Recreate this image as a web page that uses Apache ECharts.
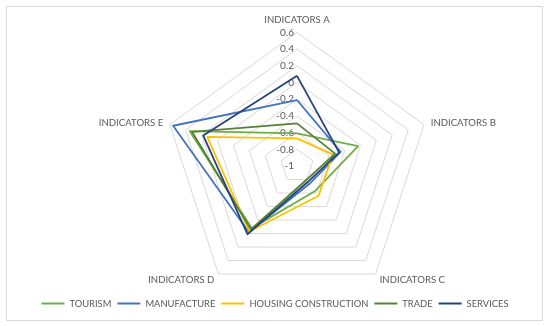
<!DOCTYPE html>
<html>
<head>
<meta charset="utf-8">
<script src="https://cdn.jsdelivr.net/npm/echarts@6/dist/echarts.min.js"></script>
<style>html,body{margin:0;padding:0;background:#fff;}#c{width:550px;height:326px;}</style>
</head>
<body>
<div id="c"></div>
<script>
const categories = ['INDICATORS A', 'INDICATORS B', 'INDICATORS C', 'INDICATORS D', 'INDICATORS E'];
const seriesNames = ['TOURISM', 'MANUFACTURE', 'HOUSING CONSTRUCTION', 'TRADE', 'SERVICES'];
const tourism = [-0.61, -0.23, -0.63, -0.08, 0.35];
const manufacture = [-0.21, -0.45, -0.74, -0.02, 0.56];
const housing = [-0.67, -0.55, -0.56, -0.03, 0.13];
const trade = [-0.49, -0.52, -0.80, -0.06, 0.32];
const services = [0.08, -0.47, -0.77, 0.01, 0.18];
const axisMin = -1, axisMax = 0.6, splitCount = 8;

const colors = ['#70AD47', '#4472C4', '#FFC000', '#548235', '#264478'];
const values = [tourism, manufacture, housing, trade, services];
const FONT = 'Lato';
const TXT = '#595959';

// ECharts radar runs counter-clockwise; reorder so categories go clockwise from the top
const order = [0, 4, 3, 2, 1];

const chart = echarts.init(document.getElementById('c'), null, {renderer: 'canvas'});
chart.setOption({
  animation: false,
  backgroundColor: '#fff',
  graphic: [{
    type: 'rect', shape: {x: 6.5, y: 6.5, width: 536, height: 314},
    style: {fill: 'none', stroke: '#D9D9D9', lineWidth: 1}, silent: true
  }],
  legend: {
    data: seriesNames,
    left: 'center', top: 294,
    icon: 'rect', itemWidth: 23, itemHeight: 2, itemGap: 6,
    textStyle: {color: TXT, fontFamily: FONT, fontSize: 9.4}
  },
  radar: {
    center: [297, 166],
    radius: 133.6,
    startAngle: 90,
    shape: 'polygon',
    splitNumber: splitCount,
    nameGap: 7,
    axisName: {color: TXT, fontFamily: FONT, fontSize: 9.6},
    axisLine: {show: false},
    axisTick: {show: false},
    axisLabel: {show: false},
    splitLine: {lineStyle: {color: '#D9D9D9', width: 1}},
    splitArea: {show: false},
    indicator: order.map((k, i) => {
      const o = {name: categories[k], min: axisMin, max: axisMax};
      if (i === 0) o.axisLabel = {show: true, color: TXT, fontFamily: FONT, fontSize: 10, margin: 3};
      return o;
    })
  },
  series: [{
    type: 'radar',
    symbol: 'none',
    data: seriesNames.map((n, i) => ({
      name: n,
      value: order.map(k => values[i][k]),
      lineStyle: {color: colors[i], width: 1.8},
      itemStyle: {color: colors[i]}
    }))
  }]
});
</script>
</body>
</html>
